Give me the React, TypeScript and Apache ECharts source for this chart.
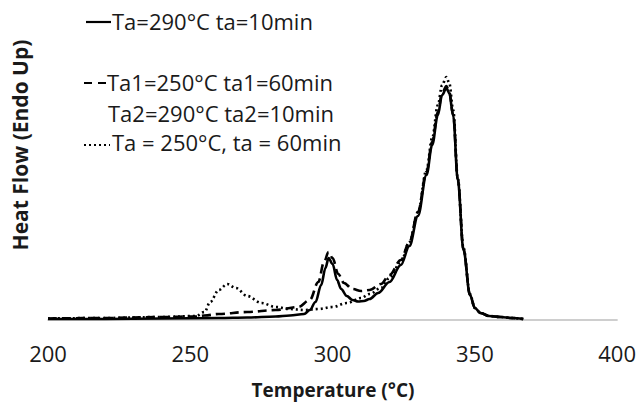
import React, { useEffect, useRef } from "react";
import * as echarts from "echarts";

// Temperature (°C) and heat flow (arbitrary units, endo up)
const tempSolid = [200, 220, 240, 260, 270, 280, 285, 290, 292, 294, 296, 297.5, 298.6, 300, 301.6, 303, 305, 307, 309, 311, 313, 316, 320, 324, 327, 330, 333, 335, 337, 338.5, 340, 341, 342.4, 344, 346, 348.3, 350, 352, 355, 359, 363, 367];
const heatSolid = [1, 1, 1.5, 2, 2.5, 3.5, 4.5, 6, 10, 18, 35, 52, 62, 56, 40, 31, 24, 20, 18.5, 19, 21, 27, 38, 55, 74, 104, 145, 175, 205, 225, 232, 227, 204, 140, 70, 25, 12, 7, 4, 3, 2, 1];

const tempDashed = [200, 220, 240, 252, 255, 260, 270, 280, 288, 292, 295, 297, 298.6, 300, 302, 304, 307, 310, 313, 317, 320, 324, 327, 330, 333, 335, 337, 338.5, 340, 341, 342.4, 344, 346, 348.3, 350, 352, 355, 359, 363, 367];
const heatDashed = [1.5, 2, 3, 3.5, 4.5, 6, 8, 10, 13, 20, 38, 58, 68, 62, 46, 37, 31, 29, 30, 36, 45, 60, 78, 108, 148, 178, 208, 227, 234, 228, 205, 141, 71, 25, 12, 7, 4, 3, 2, 1];

const tempDotted = [200, 220, 240, 252, 255, 257, 260, 263, 266, 270, 275, 280, 285, 290, 295, 300, 305, 310, 313, 317, 320, 324, 327, 330, 333, 335, 337, 338.5, 340, 341, 342.4, 344, 346, 348.3, 350, 352, 355, 359, 363, 367];
const heatDotted = [1.5, 2, 3, 4, 8, 18, 30, 36, 32, 24, 17, 13, 11, 10, 11, 13, 17, 22, 26, 32, 42, 58, 78, 108, 150, 182, 215, 235, 243, 237, 210, 142, 72, 26, 12, 7, 4, 3, 2, 1];

const xTicks = [200, 250, 300, 350, 400];

const legendRows = [
  "Ta=290°C ta=10min",
  "Ta1=250°C ta1=60min",
  "Ta2=290°C ta2=10min",
  "Ta = 250°C, ta = 60min",
];

const pairs = (xs: number[], ys: number[]) => xs.map((x, i) => [x, ys[i]]);

export default function App() {
  const ref = useRef<HTMLDivElement>(null);
  useEffect(() => {
    if (!ref.current) return;
    const chart = echarts.init(ref.current, undefined, { renderer: "svg" });
    const font = "'Open Sans', 'Noto Sans', sans-serif";
    const lineW = 2.6;
    const txt = "#1a1a1a";
    chart.setOption({
      animation: false,
      backgroundColor: "#ffffff",
      grid: { left: 48, right: 21, top: 70, bottom: 87 },
      xAxis: {
        type: "value",
        min: xTicks[0],
        max: xTicks[xTicks.length - 1],
        interval: 50,
        axisLine: { show: true, lineStyle: { color: "#bfbfbf", width: 1.5 } },
        axisTick: { show: false },
        splitLine: { show: false },
        axisLabel: { color: txt, fontSize: 22, fontFamily: font, margin: 22 },
      },
      yAxis: {
        type: "value",
        min: 0,
        max: 250,
        show: false,
        splitLine: { show: false },
      },
      series: [
        {
          type: "line",
          data: pairs(tempDotted, heatDotted),
          showSymbol: false,
          smooth: 0.35,
          smoothMonotone: "x",
          lineStyle: { color: "#000", width: lineW, type: [2, 3] },
        },
        {
          type: "line",
          data: pairs(tempDashed, heatDashed),
          showSymbol: false,
          smooth: 0.35,
          smoothMonotone: "x",
          lineStyle: { color: "#000", width: lineW, type: [9, 5] },
        },
        {
          type: "line",
          data: pairs(tempSolid, heatSolid),
          showSymbol: false,
          smooth: 0.35,
          smoothMonotone: "x",
          lineStyle: { color: "#000", width: lineW, type: "solid" },
        },
      ],
      graphic: [
        { type: "line", shape: { x1: 86, y1: 22, x2: 111, y2: 22 }, style: { stroke: "#000", lineWidth: 2.2 } },
        { type: "text", x: 112, y: 21, style: { text: legendRows[0], fontSize: 22, fontFamily: font, fill: txt, verticalAlign: "middle" } },
        { type: "line", shape: { x1: 84, y1: 83, x2: 107, y2: 83 }, style: { stroke: "#000", lineWidth: 2.2, lineDash: [8, 6] } },
        { type: "text", x: 107, y: 82, style: { text: legendRows[1], fontSize: 22, fontFamily: font, fill: txt, verticalAlign: "middle" } },
        { type: "text", x: 108, y: 113, style: { text: legendRows[2], fontSize: 22, fontFamily: font, fill: txt, verticalAlign: "middle" } },
        { type: "line", shape: { x1: 84, y1: 145, x2: 110, y2: 145 }, style: { stroke: "#000", lineWidth: 2, lineDash: [2, 3] } },
        { type: "text", x: 112, y: 142, style: { text: legendRows[3], fontSize: 22, fontFamily: font, fill: txt, verticalAlign: "middle" } },
        {
          type: "text",
          x: 20,
          y: 145,
          rotation: Math.PI / 2,
          style: { text: "Heat Flow (Endo Up)", fontSize: 21, fontWeight: "bold", fontFamily: font, fill: txt, align: "center", verticalAlign: "middle" },
        },
        {
          type: "text",
          x: 333,
          y: 390,
          style: { text: "Temperature (°C)", fontSize: 19, fontWeight: "bold", fontFamily: font, fill: txt, align: "center", verticalAlign: "middle" },
        },
      ],
    });
    return () => chart.dispose();
  }, []);
  return <div ref={ref} style={{ position: "fixed", left: 0, top: 0, width: 639, height: 407 }} />;
}
